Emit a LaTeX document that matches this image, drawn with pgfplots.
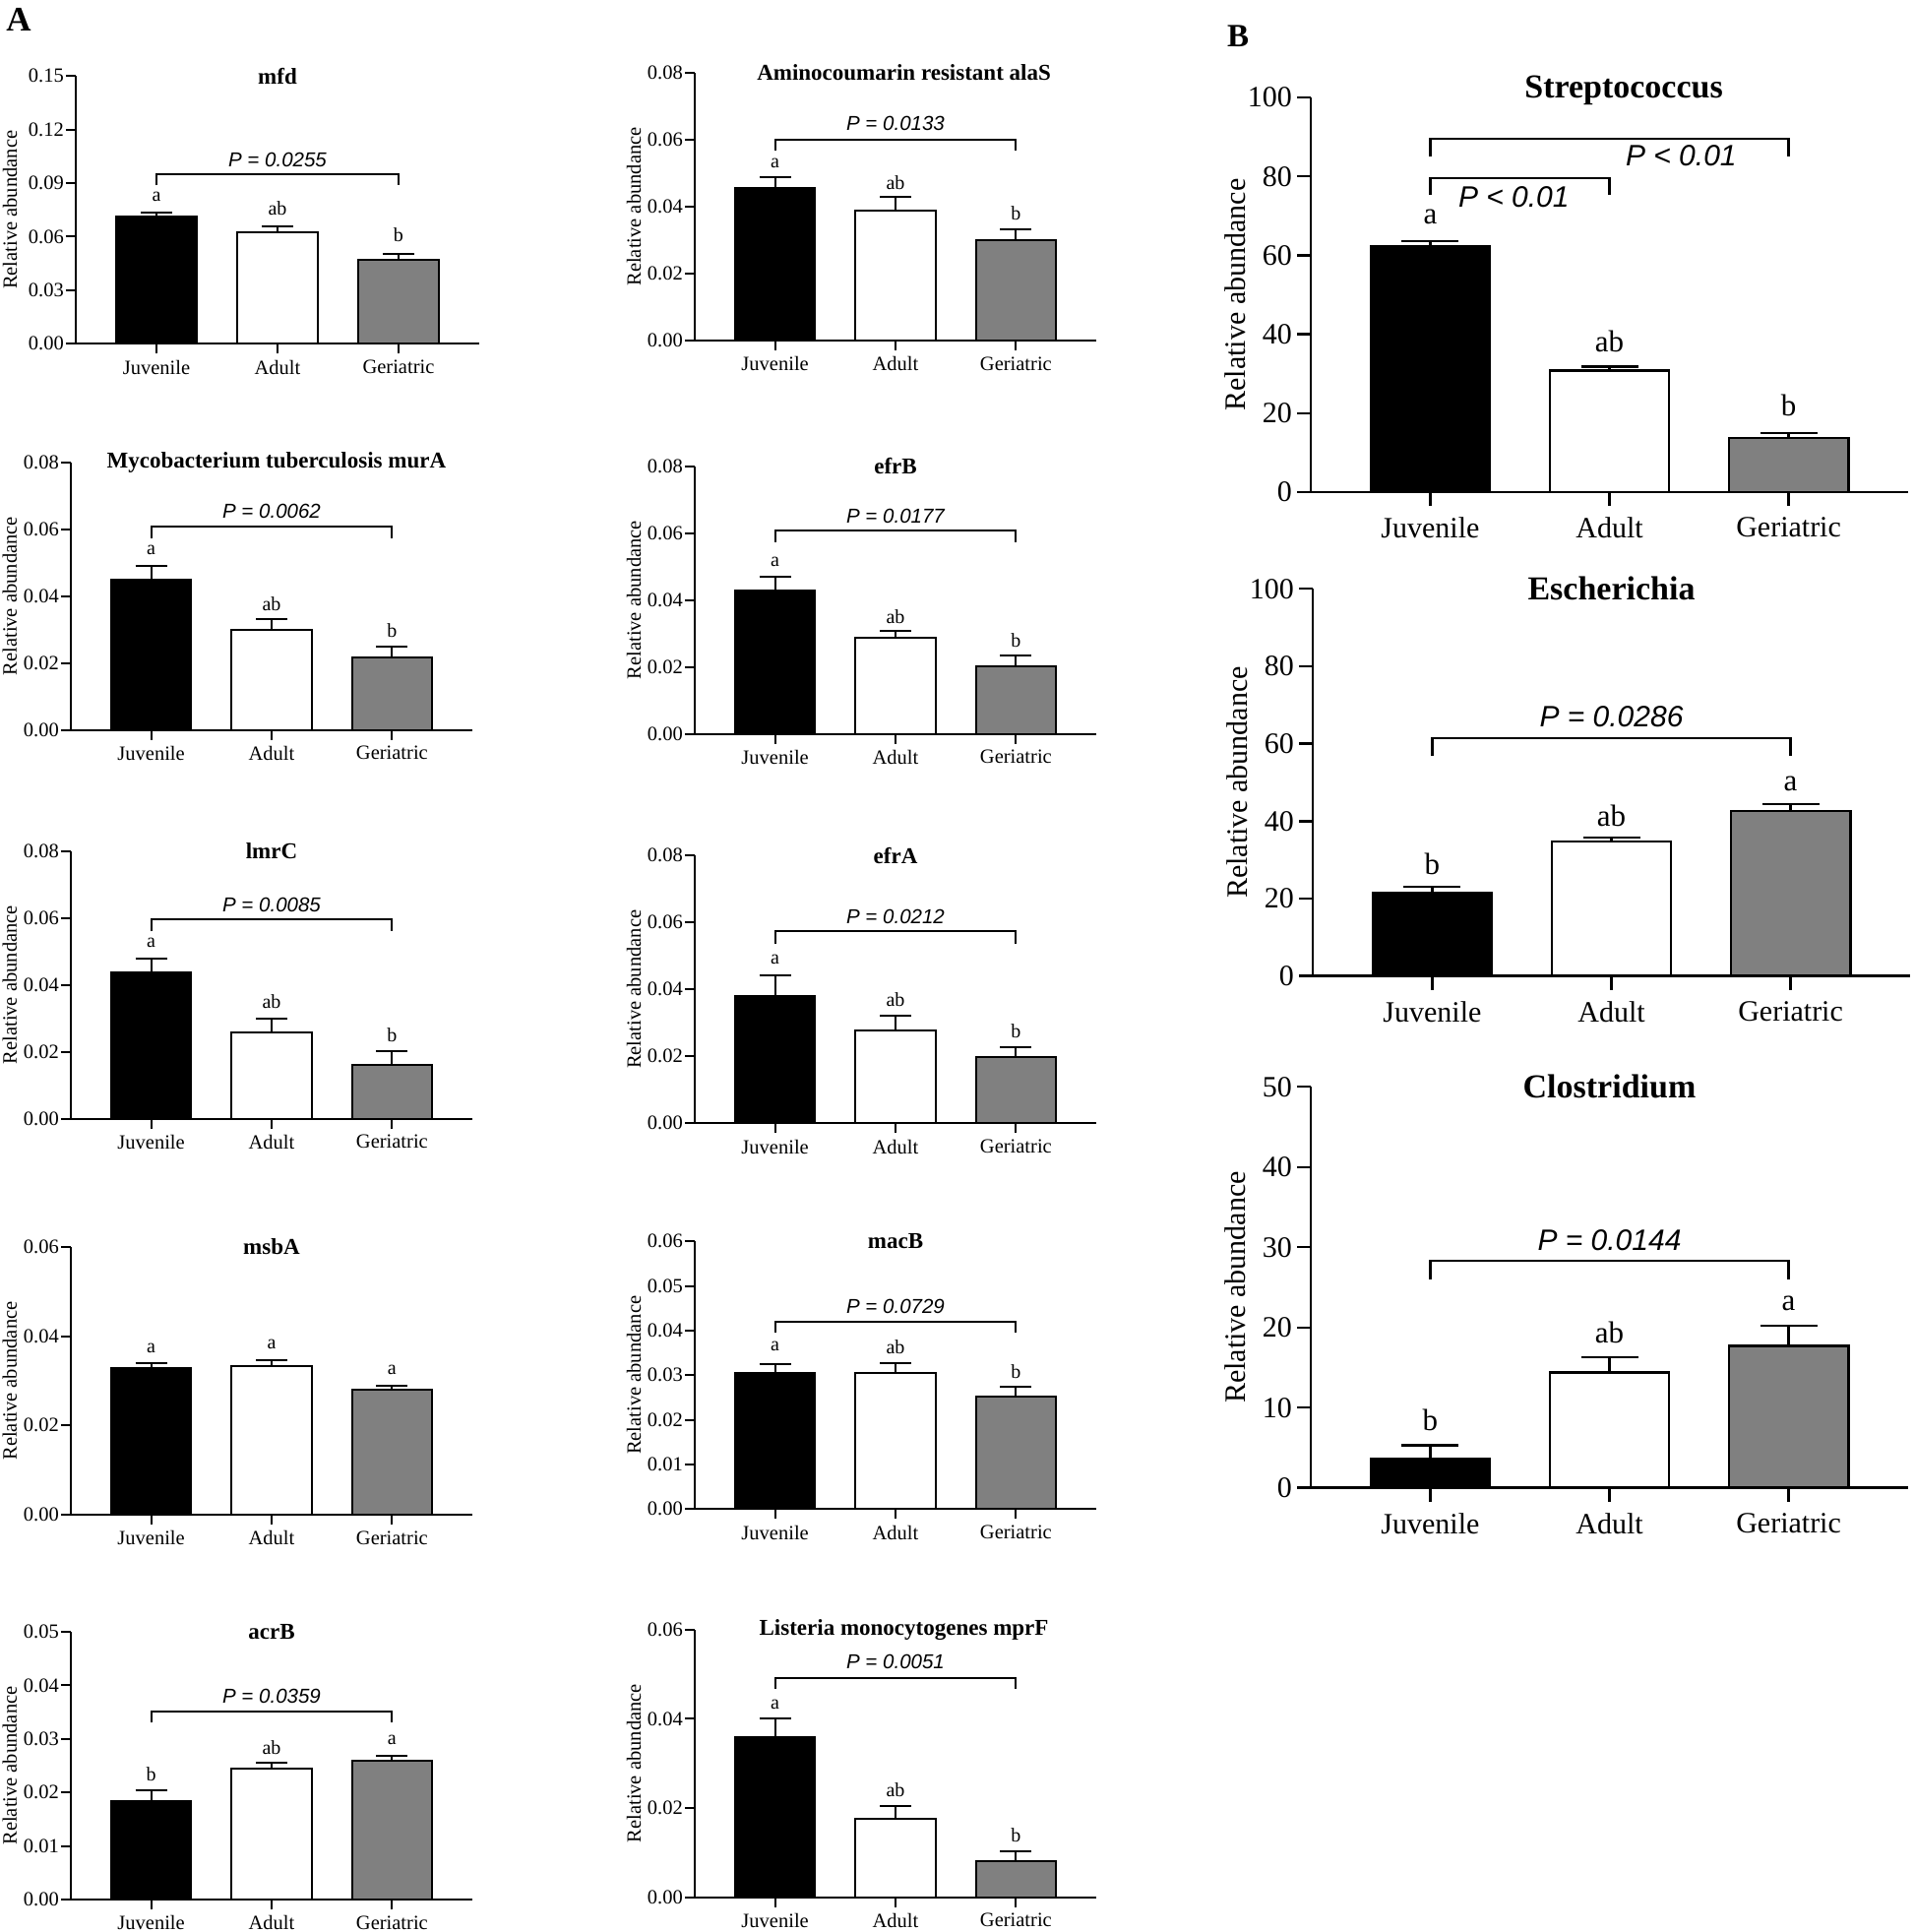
\documentclass[border=0pt]{standalone}
\usepackage{fontspec}
\setmainfont{Liberation Serif}
\newfontfamily\arialf{Liberation Sans}
\usepackage{pgfplots}
\pgfplotsset{compat=1.18}
\definecolor{barg}{RGB}{128,128,128}
\newcommand\fA{\fontsize{20.5bp}{24bp}\selectfont}
\newcommand\fAt{\fontsize{23bp}{27bp}\selectfont\bfseries}
\newcommand\fAl{\fontsize{20bp}{24bp}\selectfont}
\newcommand\fAp{\fontsize{20.5bp}{24bp}\selectfont\arialf\itshape}
\newcommand\fB{\fontsize{30bp}{36bp}\selectfont}
\newcommand\fBt{\fontsize{34bp}{40bp}\selectfont\bfseries}
\newcommand\fBl{\fontsize{31bp}{36bp}\selectfont}
\newcommand\fBp{\fontsize{30bp}{36bp}\selectfont\arialf\itshape}
\pgfplotsset{
  common/.style={
    scale only axis, anchor=south west, clip=false,
    xmin=-0.667, xmax=2.667, ymin=0,
    axis x line*=bottom, axis y line*=left,
    xtick={0,1,2}, xticklabels={Juvenile,Adult,Geriatric},
    tick align=outside,
    scaled y ticks=false,
    /pgf/number format/assume math mode=true,
  },
  Astyle/.style={common,
    width=408bp, height=272bp,
    axis line style={line width=2bp, black},
    major tick length=10bp,
    every tick/.style={line width=2bp, black},
    ticklabel style={font=\fA},
    xticklabel style={yshift=-3bp},
    yticklabel style={inner xsep=2bp, /pgf/number format/.cd, fixed, fixed zerofill, precision=2},
  },
  Bstyle/.style={common,
    width=607bp,
    axis line style={line width=2.4bp, black},
    major tick length=14bp,
    every tick/.style={line width=2.4bp, black},
    ticklabel style={font=\fB},
    xticklabel style={yshift=-8bp},
    yticklabel style={inner xsep=5bp},
  },
  barA/.style={ybar, bar width=0.667, bar shift=0pt, draw=black, line width=2bp,
    error bars/.cd, y dir=plus, y explicit, error mark=|,
    error bar style={line width=2bp, black},
    error mark options={mark size=16bp, line width=2bp, black}},
  barB/.style={ybar, bar width=0.667, bar shift=0pt, draw=black, line width=2.4bp,
    error bars/.cd, y dir=plus, y explicit, error mark=|,
    error bar style={line width=2.4bp, black},
    error mark options={mark size=29bp, line width=2.4bp, black}},
}
\newcommand\barsA[6]{%
  \addplot[fill=black, barA] coordinates {(0,#1) +- (0,#2)};
  \addplot[fill=white, barA] coordinates {(1,#3) +- (0,#4)};
  \addplot[fill=barg, barA] coordinates {(2,#5) +- (0,#6)};}
\newcommand\barsB[6]{%
  \addplot[fill=black, barB] coordinates {(0,#1) +- (0,#2)};
  \addplot[fill=white, barB] coordinates {(1,#3) +- (0,#4)};
  \addplot[fill=barg, barB] coordinates {(2,#5) +- (0,#6)};}
% bracket: x2, top, end
\newcommand\brA[3]{\draw[line width=2bp] (axis cs:0,#3) -- (axis cs:0,#2) -- (axis cs:#1,#2) -- (axis cs:#1,#3);}
\newcommand\brB[3]{\draw[line width=2.4bp] (axis cs:0,#3) -- (axis cs:0,#2) -- (axis cs:#1,#2) -- (axis cs:#1,#3);}
\newcommand\letsA[6]{%
  \node[font=\fAl] at (axis cs:0,#1) {#2};
  \node[font=\fAl] at (axis cs:1,#3) {#4};
  \node[font=\fAl] at (axis cs:2,#5) {#6};}
\newcommand\letsB[6]{%
  \node[font=\fBl] at (axis cs:0,#1) {#2};
  \node[font=\fBl] at (axis cs:1,#3) {#4};
  \node[font=\fBl] at (axis cs:2,#5) {#6};}
\newcommand\ylabA[1]{\node[rotate=90, font=\fA] at (rel axis cs:#1,0.5) {Relative abundance};}
\begin{document}
\begin{tikzpicture}
\useasboundingbox (0,0) rectangle (1946bp,1963bp);
\node[font=\fontsize{35bp}{40bp}\selectfont\bfseries] at (19bp,1943bp) {A};
\node[font=\fontsize{33bp}{40bp}\selectfont\bfseries] at (1258bp,1926bp) {B};

% 1 mfd
\begin{axis}[Astyle, at={(77bp,1613.7bp)}, width=410bp, ymax=0.15, ytick={0,0.03,0.06,0.09,0.12,0.15}]
\barsA{0.0713}{0.0022}{0.0623}{0.0033}{0.047}{0.0034}
\brA{2}{0.0952}{0.0888}
\node[font=\fAp] at (axis cs:1,0.1033) {P = 0.0255};
\letsA{0.0823}{a}{0.0757}{ab}{0.0608}{b}
\node[font=\fAt] at (rel axis cs:0.5,1) {mfd};
\ylabA{-0.163}
\end{axis}

% 2 alaS
\begin{axis}[Astyle, at={(706bp,1617bp)}, ymax=0.08, ytick={0,0.02,0.04,0.06,0.08}]
\barsA{0.0457}{0.0032}{0.0388}{0.0040}{0.0300}{0.0032}
\brA{2}{0.0601}{0.0567}
\node[font=\fAp] at (axis cs:1,0.0648) {P = 0.0133};
\letsA{0.053}{a}{0.0471}{ab}{0.0381}{b}
\node[font=\fAt] at (axis cs:1.07,0.08) {Aminocoumarin resistant alaS};
\ylabA{-0.152}
\end{axis}

% 3 murA
\begin{axis}[Astyle, at={(72bp,1221.3bp)}, ymax=0.08, ytick={0,0.02,0.04,0.06,0.08}]
\barsA{0.0450}{0.0041}{0.0300}{0.0032}{0.0218}{0.0031}
\brA{2}{0.0609}{0.0572}
\node[font=\fAp] at (axis cs:1,0.0653) {P = 0.0062};
\letsA{0.0537}{a}{0.0378}{ab}{0.0297}{b}
\node[font=\fAt] at (axis cs:1.04,0.08) {Mycobacterium tuberculosis murA};
\ylabA{-0.152}
\end{axis}

% 4 efrB
\begin{axis}[Astyle, at={(706bp,1217.3bp)}, ymax=0.08, ytick={0,0.02,0.04,0.06,0.08}]
\barsA{0.0428}{0.0041}{0.0287}{0.0021}{0.0202}{0.0032}
\brA{2}{0.0609}{0.0573}
\node[font=\fAp] at (axis cs:1,0.065) {P = 0.0177};
\letsA{0.0514}{a}{0.035}{ab}{0.0279}{b}
\node[font=\fAt] at (rel axis cs:0.5,1) {efrB};
\ylabA{-0.152}
\end{axis}

% 5 lmrC
\begin{axis}[Astyle, at={(72bp,826.3bp)}, ymax=0.08, ytick={0,0.02,0.04,0.06,0.08}]
\barsA{0.0438}{0.0041}{0.0258}{0.0041}{0.0162}{0.0041}
\brA{2}{0.0596}{0.056}
\node[font=\fAp] at (axis cs:1,0.064) {P = 0.0085};
\letsA{0.0525}{a}{0.035}{ab}{0.025}{b}
\node[font=\fAt] at (rel axis cs:0.5,1) {lmrC};
\ylabA{-0.152}
\end{axis}

% 6 efrA
\begin{axis}[Astyle, at={(706bp,821.7bp)}, ymax=0.08, ytick={0,0.02,0.04,0.06,0.08}]
\barsA{0.0381}{0.0061}{0.0278}{0.0042}{0.0197}{0.0031}
\brA{2}{0.0573}{0.0536}
\node[font=\fAp] at (axis cs:1,0.0616) {P = 0.0212};
\letsA{0.0489}{a}{0.0369}{ab}{0.0276}{b}
\node[font=\fAt] at (rel axis cs:0.5,1) {efrA};
\ylabA{-0.152}
\end{axis}

% 7 msbA
\begin{axis}[Astyle, at={(72bp,424bp)}, ymax=0.06, ytick={0,0.02,0.04,0.06}]
\barsA{0.0328}{0.0011}{0.0334}{0.0012}{0.0280}{0.0010}
\letsA{0.0373}{a}{0.0382}{a}{0.0324}{a}
\node[font=\fAt] at (rel axis cs:0.5,1) {msbA};
\ylabA{-0.152}
\end{axis}

% 8 macB
\begin{axis}[Astyle, at={(706bp,429.7bp)}, ymax=0.06, ytick={0,0.01,0.02,0.03,0.04,0.05,0.06}]
\barsA{0.0304}{0.0021}{0.0306}{0.0022}{0.0252}{0.0022}
\brA{2}{0.0419}{0.0395}
\node[font=\fAp] at (axis cs:1,0.0454) {P = 0.0729};
\letsA{0.0364}{a}{0.0364}{ab}{0.0308}{b}
\node[font=\fAt] at (rel axis cs:0.5,1) {macB};
\ylabA{-0.152}
\end{axis}

% 9 acrB
\begin{axis}[Astyle, at={(72bp,33bp)}, ymax=0.05, ytick={0,0.01,0.02,0.03,0.04,0.05}]
\barsA{0.0183}{0.0021}{0.0245}{0.0011}{0.0259}{0.0009}
\brA{2}{0.0351}{0.033}
\node[font=\fAp] at (axis cs:1,0.038) {P = 0.0359};
\letsA{0.0235}{b}{0.0284}{ab}{0.0298}{a}
\node[font=\fAt] at (rel axis cs:0.5,1) {acrB};
\ylabA{-0.152}
\end{axis}

% 10 mprF
\begin{axis}[Astyle, at={(706bp,35.3bp)}, ymax=0.06, ytick={0,0.02,0.04,0.06}]
\barsA{0.0358}{0.0042}{0.0175}{0.0030}{0.0081}{0.0022}
\brA{2}{0.0492}{0.0468}
\node[font=\fAp] at (axis cs:1,0.0527) {P = 0.0051};
\letsA{0.0431}{a}{0.0241}{ab}{0.0138}{b}
\node[font=\fAt] at (axis cs:1.07,0.06) {Listeria monocytogenes mprF};
\ylabA{-0.152}
\end{axis}

% B1 Streptococcus
\begin{axis}[Bstyle, at={(1332bp,1463bp)}, height=401bp, ymax=100, ytick={0,20,40,60,80,100}]
\barsB{62.3}{1.3}{30.75}{1.0}{13.7}{1.3}
\brB{2}{89.5}{85.0}
\brB{1}{79.55}{75.2}
\node[font=\fBp] at (axis cs:1.40,85.3) {P < 0.01};
\node[font=\fBp] at (axis cs:0.466,74.8) {P < 0.01};
\letsB{69.8}{a}{38.2}{ab}{21.9}{b}
\node[font=\fBt] at (axis cs:1.08,101.8) {Streptococcus};
\node[rotate=90, font=\fB] at (rel axis cs:-0.127,0.5) {Relative abundance};
\end{axis}

% B2 Escherichia
\begin{axis}[Bstyle, at={(1334bp,971.3bp)}, height=393.4bp, ymax=100, ytick={0,20,40,60,80,100}]
\barsB{21.4}{1.6}{34.7}{1.0}{42.7}{1.7}
\brB{2}{61.4}{56.9}
\node[font=\fBp] at (axis cs:1,67.1) {P = 0.0286};
\letsB{28.8}{b}{41.3}{ab}{49.7}{a}
\node[font=\fBt] at (axis cs:1,100) {Escherichia};
\node[rotate=90, font=\fB] at (rel axis cs:-0.127,0.5) {Relative abundance};
\end{axis}

% B3 Clostridium
\begin{axis}[Bstyle, at={(1332bp,451.3bp)}, height=407.4bp, ymax=50, ytick={0,10,20,30,40,50}]
\barsB{3.68}{1.6}{14.4}{1.9}{17.7}{2.5}
\brB{2}{28.3}{26.0}
\node[font=\fBp] at (axis cs:1,30.9) {P = 0.0144};
\letsB{8.4}{b}{19.4}{ab}{23.0}{a}
\node[font=\fBt] at (axis cs:1,50) {Clostridium};
\node[rotate=90, font=\fB] at (rel axis cs:-0.127,0.5) {Relative abundance};
\end{axis}
\end{tikzpicture}
\end{document}
